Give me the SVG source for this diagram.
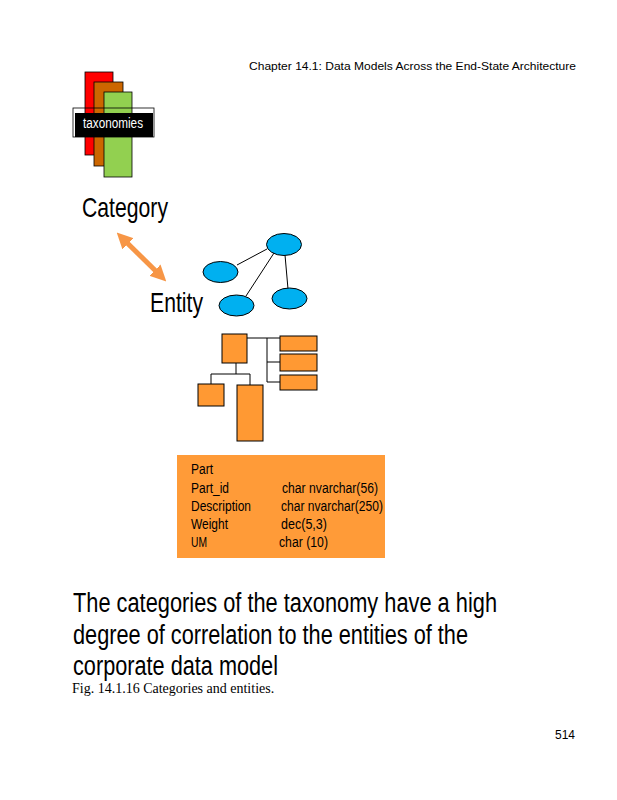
<svg xmlns="http://www.w3.org/2000/svg" width="617" height="800" viewBox="0 0 617 800">
<style>
.sans{font-family:"Liberation Sans Narrow","Liberation Sans",Arial,sans-serif;fill:#000}
.big{font-size:27px}
.tbl{font-size:14px}
.ent{fill:#FF9933;stroke:#000;stroke-width:1}
.ell{fill:#00B0F0;stroke:#000;stroke-width:1}
.ln{stroke:#000;stroke-width:1;fill:none}
</style>
<defs>
<marker id="ah" viewBox="0 0 10 10" refX="5" refY="5" markerWidth="3.2" markerHeight="3.2" orient="auto-start-reverse" markerUnits="strokeWidth">
<path d="M0,0 L10,5 L0,10 z" fill="#F79646"/>
</marker>
</defs>
<rect width="617" height="800" fill="#fff"/>
<text class="sans" x="249" y="70" font-size="11.5" textLength="327" lengthAdjust="spacingAndGlyphs" style="font-family:'Liberation Sans',Arial,sans-serif">Chapter 14.1: Data Models Across the End-State Architecture</text>

<g id="taxonomies">
<rect x="85" y="72" width="28" height="83" fill="#FF0000" stroke="#000" stroke-width="0.8"/>
<rect x="94" y="82" width="29" height="84" fill="#CC6600" stroke="#000" stroke-width="0.8"/>
<rect x="104" y="92" width="28" height="85" fill="#92D050" stroke="#000" stroke-width="0.8"/>
<rect x="73" y="108" width="81" height="29" fill="none" stroke="#000" stroke-width="0.8"/>
<rect x="75" y="113" width="78" height="24" fill="#000"/>
<text class="sans" x="113" y="128" font-size="14" text-anchor="middle" textLength="60" lengthAdjust="spacingAndGlyphs" style="fill:#fff">taxonomies</text>
</g>

<g id="category">
<text class="sans" x="82" y="217" font-size="28" textLength="86" lengthAdjust="spacingAndGlyphs">Category</text>
</g>

<g id="entity">
<text class="sans" x="150" y="312" font-size="28" textLength="53" lengthAdjust="spacingAndGlyphs">Entity</text>
</g>

<g id="connectors">
<line x1="122.4" y1="238.2" x2="160.6" y2="275.8" stroke="#F79646" stroke-width="5" marker-start="url(#ah)" marker-end="url(#ah)"/>
<line class="ln" x1="267" y1="249" x2="237" y2="265"/>
<line class="ln" x1="274" y1="253" x2="246" y2="296"/>
<line class="ln" x1="285" y1="255" x2="288" y2="289"/>
<polyline class="ln" points="247,338 280,338"/>
<polyline class="ln" points="267,338 267,382 280,382"/>
<line class="ln" x1="267" y1="362" x2="280" y2="362"/>
<polyline class="ln" points="236,363 236,374"/>
<polyline class="ln" points="211,384 211,374 250,374 250,385"/>
</g>

<g id="graph-nodes">
<ellipse class="ell" cx="284" cy="244.5" rx="17.5" ry="11"/>
<ellipse class="ell" cx="220.5" cy="272" rx="17.5" ry="10.5"/>
<ellipse class="ell" cx="236.5" cy="305.5" rx="17.5" ry="10.5"/>
<ellipse class="ell" cx="289.5" cy="298.5" rx="17.5" ry="10.5"/>
</g>

<g id="entity-boxes">
<rect class="ent" x="222" y="334" width="25" height="29"/>
<rect class="ent" x="280" y="336" width="37" height="15"/>
<rect class="ent" x="280" y="354" width="37" height="17"/>
<rect class="ent" x="280" y="375" width="37" height="15"/>
<rect class="ent" x="198" y="384" width="26" height="22"/>
<rect class="ent" x="237" y="385" width="26" height="56"/>
</g>

<g id="part-table">
<rect x="177" y="455" width="208" height="103" fill="#FF9B38"/>
<text class="sans tbl" x="191" y="474" textLength="22" lengthAdjust="spacingAndGlyphs">Part</text>
<text class="sans tbl" x="191" y="492.5" textLength="38" lengthAdjust="spacingAndGlyphs">Part_id</text>
<text class="sans tbl" x="191" y="511" textLength="60" lengthAdjust="spacingAndGlyphs">Description</text>
<text class="sans tbl" x="191" y="529" textLength="37" lengthAdjust="spacingAndGlyphs">Weight</text>
<text class="sans tbl" x="191" y="547" textLength="16" lengthAdjust="spacingAndGlyphs">UM</text>
<text class="sans tbl" x="282" y="492.5" textLength="96" lengthAdjust="spacingAndGlyphs">char nvarchar(56)</text>
<text class="sans tbl" x="281" y="511" textLength="102" lengthAdjust="spacingAndGlyphs">char nvarchar(250)</text>
<text class="sans tbl" x="281" y="529" textLength="46" lengthAdjust="spacingAndGlyphs">dec(5,3)</text>
<text class="sans tbl" x="279" y="547" textLength="49" lengthAdjust="spacingAndGlyphs">char (10)</text>
</g>

<text class="sans big" x="73" y="612" textLength="424" lengthAdjust="spacingAndGlyphs">The categories of the taxonomy have a high</text>
<text class="sans big" x="73" y="644" textLength="395" lengthAdjust="spacingAndGlyphs">degree of correlation to the entities of the</text>
<text class="sans big" x="73" y="675" textLength="205" lengthAdjust="spacingAndGlyphs">corporate data model</text>
<text x="72" y="693" font-family="'Liberation Serif','Times New Roman',serif" font-size="14">Fig. 14.1.16 Categories and entities.</text>
<text x="555" y="739" font-family="'Liberation Sans',Arial,sans-serif" font-size="12" textLength="20" lengthAdjust="spacingAndGlyphs">514</text>
</svg>
